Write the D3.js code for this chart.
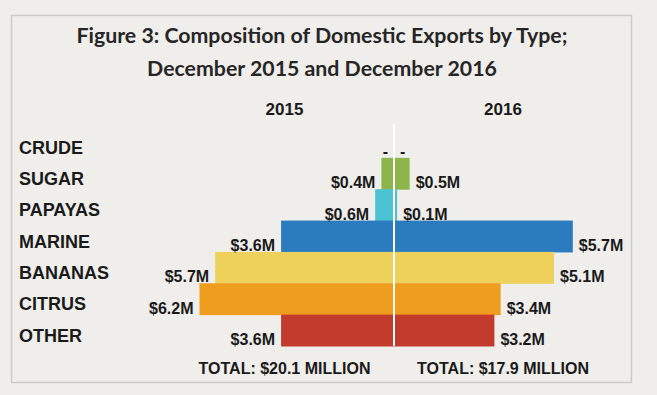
<!DOCTYPE html>
<html>
<head>
<meta charset="utf-8">
<script src="https://cdn.jsdelivr.net/npm/d3@7"></script>
<style>
    body { margin: 0; background: #f0eeeb; }
    text { font-family: "Liberation Sans", Arial, sans-serif; font-weight: bold; fill: #1a1a1a; }
    .title { font-family: Lato, "Open Sans", sans-serif; font-size: 21.3px; fill: #262626; }
</style>
</head>
<body>
<div id="chart"></div>
<script>
// Data
var categories = ["CRUDE", "SUGAR", "PAPAYAS", "MARINE", "BANANAS", "CITRUS", "OTHER"];
var values2015 = [0, 0.4, 0.6, 3.6, 5.7, 6.2, 3.6];
var values2016 = [0, 0.5, 0.1, 5.7, 5.1, 3.4, 3.2];
var colors = ["#8db64a", "#8db64a", "#4cc3d3", "#2b7bbf", "#edd15a", "#ef9d1f", "#c23b2c"];
var years = ["2015", "2016"];
var totals = ["TOTAL: $20.1 MILLION", "TOTAL: $17.9 MILLION"];
var titleLines = ["Figure 3: Composition of Domestic Exports by Type;", "December 2015 and December 2016"];

var width = 657, height = 395;
var center = 394;

var svg = d3.select("#chart").append("svg")
    .attr("width", width)
    .attr("height", height);

// frame
svg.append("rect")
    .attr("x", 11.5).attr("y", 15.5)
    .attr("width", 620).attr("height", 367)
    .attr("fill", "#f0eeeb")
    .attr("stroke", "#cdcbc8")
    .attr("stroke-width", 1.5);

// title
svg.selectAll(".title")
    .data(titleLines)
    .enter().append("text")
    .attr("class", "title")
    .attr("x", 322)
    .attr("y", function (d, i) { return 43 + i * 33; })
    .attr("text-anchor", "middle")
    .text(function (d) { return d; });

// scales
var x = d3.scaleLinear()
    .domain([0, 6.2])
    .range([0, 194.5]);
var y = d3.scaleBand()
    .domain(categories)
    .range([126.5, 346])
    .padding(0);

var rows = categories.map(function (c, i) {
    return { cat: c, v15: values2015[i], v16: values2016[i], color: colors[i] };
});

function fmt(v) {
    return v === 0 ? "-" : "$" + v.toFixed(1) + "M";
}

// bars 2015 (left)
svg.selectAll(".bar15")
    .data(rows)
    .enter().append("rect")
    .attr("class", "bar15")
    .attr("x", function (d) { return center - x(d.v15); })
    .attr("y", function (d) { return y(d.cat); })
    .attr("width", function (d) { return x(d.v15); })
    .attr("height", y.bandwidth() + 0.5)
    .attr("fill", function (d) { return d.color; });

// bars 2016 (right)
svg.selectAll(".bar16")
    .data(rows)
    .enter().append("rect")
    .attr("class", "bar16")
    .attr("x", center)
    .attr("y", function (d) { return y(d.cat); })
    .attr("width", function (d) { return x(d.v16); })
    .attr("height", y.bandwidth() + 0.5)
    .attr("fill", function (d) { return d.color; });

// center line
svg.append("line")
    .attr("x1", center).attr("x2", center)
    .attr("y1", 124).attr("y2", y.range()[1])
    .attr("stroke", "#ffffff")
    .attr("stroke-width", 2);

// value labels
svg.selectAll(".lab15")
    .data(rows)
    .enter().append("text")
    .attr("class", "lab15")
    .attr("x", function (d) { return center - x(d.v15) - 6; })
    .attr("y", function (d) { return y(d.cat) + y.bandwidth() - 1; })
    .attr("text-anchor", "end")
    .style("font-size", "16px")
    .text(function (d) { return fmt(d.v15); });

svg.selectAll(".lab16")
    .data(rows)
    .enter().append("text")
    .attr("class", "lab16")
    .attr("x", function (d) { return center + x(d.v16) + 6; })
    .attr("y", function (d) { return y(d.cat) + y.bandwidth() - 1; })
    .attr("text-anchor", "start")
    .style("font-size", "16px")
    .text(function (d) { return fmt(d.v16); });

// category labels
svg.selectAll(".cat")
    .data(categories)
    .enter().append("text")
    .attr("class", "cat")
    .attr("x", 19)
    .attr("y", function (d) { return y(d) + y.bandwidth() / 2 + 11.5; })
    .style("font-size", "18px")
    .text(function (d) { return d; });

// year headers and totals
var colX = [284.5, 503];
svg.selectAll(".year")
    .data(years)
    .enter().append("text")
    .attr("class", "year")
    .attr("x", function (d, i) { return colX[i]; })
    .attr("y", 115)
    .attr("text-anchor", "middle")
    .style("font-size", "17px")
    .text(function (d) { return d; });

svg.selectAll(".total")
    .data(totals)
    .enter().append("text")
    .attr("class", "total")
    .attr("x", function (d, i) { return colX[i]; })
    .attr("y", 374)
    .attr("text-anchor", "middle")
    .style("font-size", "16px")
    .text(function (d) { return d; });
</script>
</body>
</html>
